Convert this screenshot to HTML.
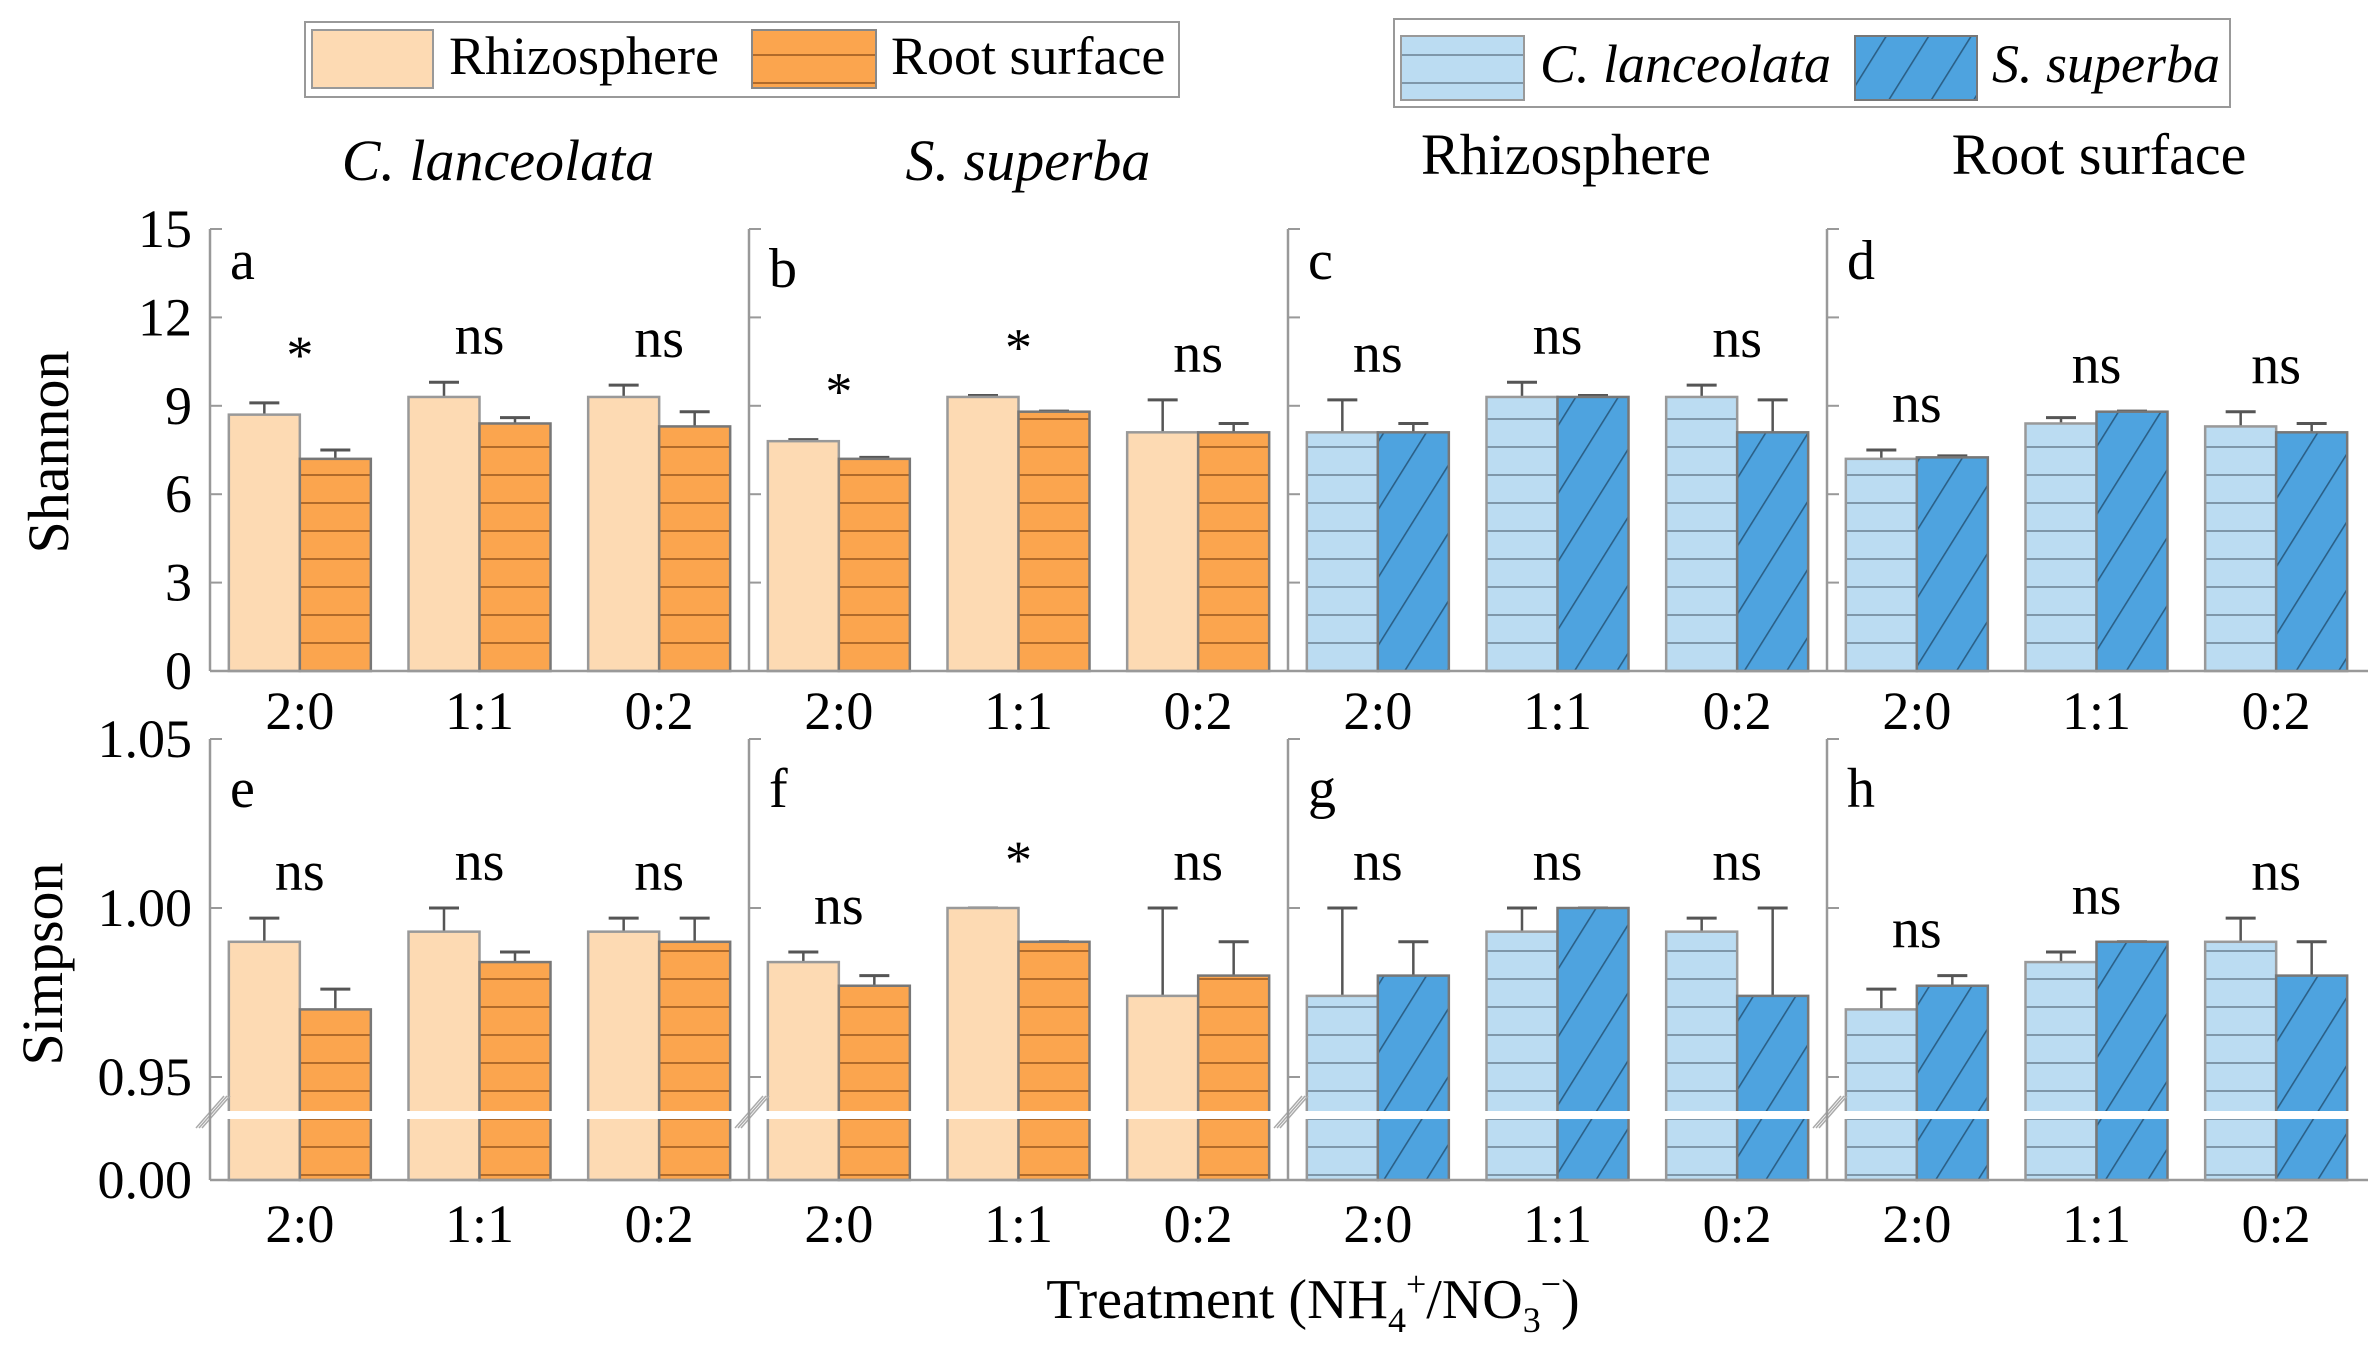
<!DOCTYPE html>
<html><head><meta charset="utf-8"><style>
html,body{margin:0;padding:0;background:#fff;}
svg{display:block;font-family:"Liberation Serif",serif;}
</style></head><body>
<svg id="chart" width="2376" height="1348" viewBox="0 0 2376 1348" xmlns="http://www.w3.org/2000/svg">
<defs>
<pattern id="hOr" patternUnits="userSpaceOnUse" width="20" height="28"><rect width="20" height="28" fill="#FBA54E"/><rect y="26" width="20" height="2.5" fill="#B06A2A"/></pattern>
<pattern id="hBl" patternUnits="userSpaceOnUse" width="20" height="28"><rect width="20" height="28" fill="#BBDCF2"/><rect y="26" width="20" height="2.5" fill="#7E97AA"/></pattern>
<pattern id="dBl" patternUnits="userSpaceOnUse" width="36" height="36" patternTransform="rotate(32)"><rect width="36" height="36" fill="#4EA3DF"/><rect x="34" width="1.6" height="36" fill="#2B5F86"/></pattern>
</defs>
<g>
<rect x="305" y="22" width="874" height="75" fill="#fff" stroke="#999" stroke-width="2"/>
<rect x="312" y="30" width="121" height="58" fill="#FDDAB3" stroke="#999" stroke-width="2"/>
<text x="449" y="74" font-size="54">Rhizosphere</text>
<rect x="752" y="30" width="124" height="58" fill="url(#hOr)" stroke="#888" stroke-width="2"/>
<text x="891" y="74" font-size="54">Root surface</text>
</g>
<g>
<rect x="1394" y="19" width="836" height="88" fill="#fff" stroke="#999" stroke-width="2"/>
<rect x="1401" y="36" width="123" height="64" fill="url(#hBl)" stroke="#999" stroke-width="2"/>
<text x="1540" y="82" font-size="54" font-style="italic">C. lanceolata</text>
<rect x="1855" y="36" width="122" height="64" fill="url(#dBl)" stroke="#777" stroke-width="2"/>
<text x="1992" y="82" font-size="54" font-style="italic">S. superba</text>
</g>
<text x="498" y="180" font-size="58" font-style="italic" text-anchor="middle">C. lanceolata</text>
<text x="1028" y="180" font-size="58" font-style="italic" text-anchor="middle">S. superba</text>
<text x="1566" y="174" font-size="58" text-anchor="middle">Rhizosphere</text>
<text x="2099" y="174" font-size="58" text-anchor="middle">Root surface</text>
<text transform="translate(68,452) rotate(-90)" font-size="58" text-anchor="middle">Shannon</text>
<text transform="translate(62,964) rotate(-90)" font-size="58" text-anchor="middle">Simpson</text>
<text x="1313" y="1318" font-size="56" text-anchor="middle">Treatment (NH<tspan font-size="36" dy="14">4</tspan><tspan font-size="36" dy="-36">+</tspan><tspan dy="22">/NO</tspan><tspan font-size="36" dy="14">3</tspan><tspan font-size="36" dy="-36">−</tspan><tspan dy="22">)</tspan></text>
<g id="plots"></g>
</svg>
<script>
const categories = ["2:0","1:1","0:2"];
const panelLetters = ["a","b","c","d","e","f","g","h"];
const shTicks = [0,3,6,9,12,15];
const siTickLabels = ["0.00","0.95","1.00","1.05"];
const shA1=[8.7,9.3,9.3], shA2=[7.2,8.4,8.3], shAe1=[9.1,9.8,9.7], shAe2=[7.5,8.6,8.8];
const shB1=[7.8,9.3,8.1], shB2=[7.2,8.8,8.1], shBe1=[7.85,9.35,9.2], shBe2=[7.25,8.82,8.4];
const shC1=[8.1,9.3,9.3], shC2=[8.1,9.3,8.1], shCe1=[9.2,9.8,9.7], shCe2=[8.4,9.35,9.2];
const shD1=[7.2,8.4,8.3], shD2=[7.25,8.8,8.1], shDe1=[7.5,8.6,8.8], shDe2=[7.3,8.82,8.4];
const siE1=[0.990,0.993,0.993], siE2=[0.970,0.984,0.990], siEe1=[0.997,1.000,0.997], siEe2=[0.976,0.987,0.997];
const siF1=[0.984,1.000,0.974], siF2=[0.977,0.990,0.980], siFe1=[0.987,1.000,1.000], siFe2=[0.980,0.990,0.990];
const siG1=[0.974,0.993,0.993], siG2=[0.980,1.000,0.974], siGe1=[1.000,1.000,0.997], siGe2=[0.990,1.000,1.000];
const siH1=[0.970,0.984,0.990], siH2=[0.977,0.990,0.980], siHe1=[0.976,0.987,0.997], siHe2=[0.980,0.990,0.990];
const sigA=["*","ns","ns"], sigB=["*","*","ns"], sigC=["ns","ns","ns"], sigD=["ns","ns","ns"];
const sigE=["ns","ns","ns"], sigF=["ns","*","ns"], sigG=["ns","ns","ns"], sigH=["ns","ns","ns"];

const NS="http://www.w3.org/2000/svg";
const root=document.getElementById('plots');
function mk(tag,attrs,parent){const e=document.createElementNS(NS,tag);for(const k in attrs)e.setAttribute(k,attrs[k]);(parent||root).appendChild(e);return e;}
const axX=[210,749,1288,1827], PW=539;
const yShan=v=>671-v/15*442;
const yBot0=1180, y095=1077, perStep=169;
const ySimp=v=>v>=0.95? y095-(v-0.95)/0.05*perStep : yBot0;
const xBand=(p,i)=>axX[p]+(i+0.5)*(PW/3);

const panels=[
 {v1:shA1,v2:shA2,e1:shAe1,e2:shAe2,sig:sigA,f1:"#FDDAB3",f2:"url(#hOr)",top:true},
 {v1:shB1,v2:shB2,e1:shBe1,e2:shBe2,sig:sigB,f1:"#FDDAB3",f2:"url(#hOr)",top:true},
 {v1:shC1,v2:shC2,e1:shCe1,e2:shCe2,sig:sigC,f1:"url(#hBl)",f2:"url(#dBl)",top:true},
 {v1:shD1,v2:shD2,e1:shDe1,e2:shDe2,sig:sigD,f1:"url(#hBl)",f2:"url(#dBl)",top:true},
 {v1:siE1,v2:siE2,e1:siEe1,e2:siEe2,sig:sigE,f1:"#FDDAB3",f2:"url(#hOr)",top:false},
 {v1:siF1,v2:siF2,e1:siFe1,e2:siFe2,sig:sigF,f1:"#FDDAB3",f2:"url(#hOr)",top:false},
 {v1:siG1,v2:siG2,e1:siGe1,e2:siGe2,sig:sigG,f1:"url(#hBl)",f2:"url(#dBl)",top:false},
 {v1:siH1,v2:siH2,e1:siHe1,e2:siHe2,sig:sigH,f1:"url(#hBl)",f2:"url(#dBl)",top:false}
];
const bw=71;
panels.forEach((P,k)=>{
  const p=k%4, top=P.top;
  const yf=top?yShan:ySimp;
  const base=top?yShan(0):yBot0;
  const yTop=top?yShan(15):ySimp(1.05);
  const g=mk('g',{});
  
  
  categories.forEach((c,i)=>{
    const cx=xBand(p,i);
    [[P.v1,P.e1,P.f1,-bw,'#999'],[P.v2,P.e2,P.f2,0,'#777']].forEach((s,j)=>{
      const v=s[0][i], y=yf(v), x=cx+s[3];
      const ex=x+bw/2, ey=yf(s[1][i]);
      const l=mk('line',{x1:ex,x2:ex,y1:y,y2:ey,stroke:'#555','stroke-width':2.5},g);
      
      
      const cap=mk('line',{x1:ex-15,x2:ex+15,y1:ey,y2:ey,stroke:'#555','stroke-width':3},g);
      
      
      const r=mk('rect',{x:x,y:y,width:bw,height:base-y,fill:s[2],stroke:s[4],'stroke-width':2.5},g);
      
      
    });
    const mx=Math.min(yf(P.e1[i]),yf(P.e2[i]));
    const sg=P.sig[i]=="*";
    const t=mk('text',{x:cx,y:mx-(sg?30:28),'font-size':sg?54:56,'text-anchor':'middle'},g);
    t.textContent=P.sig[i];
    
    
    const tl=mk('text',{x:cx,y:top?729:1242,'font-size':54,'text-anchor':'middle'},g);
    tl.textContent=c;
    
    
  });
  if(!top){
    const wb=mk('rect',{x:axX[p]+2,y:1111,width:PW-4,height:8,fill:'#fff'},g);
    
    
    for(let d=0;d<3;d++){
      const bl=mk('line',{x1:axX[p]-14+d*3,y1:1128,x2:axX[p]+14+d*3,y2:1096,stroke:'#aaa','stroke-width':1.5},g);
      
      
    }
  }
  const ax=mk('line',{x1:axX[p],x2:axX[p],y1:yTop,y2:base,stroke:'#999','stroke-width':2.5},g);
  
  
  const bx=mk('line',{x1:axX[p],x2:p==3?2368:axX[p]+PW,y1:base,y2:base,stroke:'#999','stroke-width':2.5},g);
  
  
  const tickVals= top? shTicks : [0.95,1.00,1.05];
  tickVals.forEach((tv,ti)=>{
    const ty=yf(tv);
    const tk=mk('line',{x1:axX[p],x2:axX[p]+12,y1:ty,y2:ty,stroke:'#999','stroke-width':2},g);
    
    
    if(p==0){
      const tt=mk('text',{x:192,y:ty+18,'font-size':54,'text-anchor':'end'},g);
      tt.textContent= top? String(tv) : siTickLabels[ti+1];
      
      
    }
  });
  if(!top && p==0){
    const tt=mk('text',{x:192,y:yBot0+18,'font-size':54,'text-anchor':'end'},g);
    tt.textContent=siTickLabels[0];
    
    
  }
  const lt=mk('text',{x:axX[p]+20,y:top?(p==1?287:279):807,'font-size':56},g);
  lt.textContent=panelLetters[k];
  
  
});
</script>
</body></html>
